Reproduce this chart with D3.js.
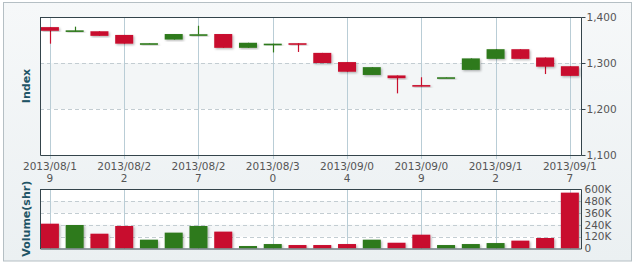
<!DOCTYPE html>
<html>
  <head>
    <meta charset="utf-8">
    <script src="https://d3js.org/d3.v7.min.js"></script>
    <style>
      body { margin: 0; background: #fff; }
      text { font-family: "DejaVu Sans", Verdana, sans-serif; }
    </style>
  </head>
  <body>
  <script>

    var dates = ["2013/08/19","2013/08/20","2013/08/21","2013/08/22","2013/08/23","2013/08/26","2013/08/27",
                 "2013/08/28","2013/08/29","2013/08/30","2013/09/02","2013/09/03","2013/09/04","2013/09/05",
                 "2013/09/06","2013/09/09","2013/09/10","2013/09/11","2013/09/12","2013/09/13","2013/09/16","2013/09/17"];
    var open  = [1378,1368,1369,1361,1342,1351,1362,1363,1333,1341,1343,1322,1302,1274,1273,1252,1268,1285,1309,1330,1312,1293];
    var close = [1370,1371,1359,1342,1343,1363,1362.5,1333,1344,1342,1341,1300,1281,1291,1267,1249,1269,1310,1330,1309,1292,1272];
    var high  = [1378,1379,1369,1361,1343,1363,1381,1363,1344,1342,1343,1322,1302,1291,1273,1269,1269,1310,1330,1330,1312,1293];
    var low   = [1342,1368,1359,1342,1342,1351,1362,1333,1333,1323,1324,1300,1281,1274,1234,1249,1268,1285,1309,1309,1276,1272];
    var volume = [250000,237000,149000,227000,89000,160000,227000,170000,25000,45000,35000,35000,
                  45000,89000,58000,139000,35000,45000,55000,79000,106000,563000];

    var priceTicks = [1100,1200,1300,1400];
    var volumeTicks = [0,120000,240000,360000,480000,600000];
    var labelIdx = [0,3,6,9,12,15,18,21];

    var red = "#c8102e", green = "#2f7a1c";
    var W = 636, H = 266;
    var left = 40, right = 581;
    var pTop = 17, pBot = 155, vTop = 189, vBot = 248.5;

    var svg = d3.select("body").append("svg").attr("width", W).attr("height", H);

    var defs = svg.append("defs");
    var grad = defs.append("linearGradient").attr("id", "bg").attr("x1", 0).attr("y1", 0).attr("x2", 0).attr("y2", 1);
    grad.append("stop").attr("offset", "0%").attr("stop-color", "#f6f8f9");
    grad.append("stop").attr("offset", "100%").attr("stop-color", "#ebf0f2");
    var f = defs.append("filter").attr("id", "sh").attr("x", "-20%").attr("y", "-20%").attr("width", "150%").attr("height", "150%");
    f.append("feDropShadow").attr("dx", 1.2).attr("dy", 1.2).attr("stdDeviation", 0.8)
      .attr("flood-color", "#000").attr("flood-opacity", 0.3);
    defs.append("clipPath").attr("id", "clipP").append("rect")
      .attr("x", left).attr("y", pTop).attr("width", right - left).attr("height", pBot - pTop);
    defs.append("clipPath").attr("id", "clipV").append("rect")
      .attr("x", left).attr("y", vTop).attr("width", right - left).attr("height", vBot - vTop);

    // outer panel
    svg.append("rect").attr("x", 3.5).attr("y", 2.5).attr("width", 628).attr("height", 258.5)
      .attr("fill", "url(#bg)").attr("stroke", "#b5bfc4");

    var x = d3.scaleLinear().domain([-0.4, 21.45]).range([left, right]);
    var y = d3.scaleLinear().domain([1100, 1400]).range([pBot, pTop]);
    var yv = d3.scaleLinear().domain([0, 600000]).range([vBot, vTop]);
    var bw = 18;

    function color(i) { return close[i] < open[i] ? red : green; }

    // plot backgrounds
    svg.append("rect").attr("x", left).attr("y", pTop).attr("width", right - left).attr("height", pBot - pTop).attr("fill", "#fff");
    svg.append("rect").attr("x", left).attr("y", vTop).attr("width", right - left).attr("height", vBot - vTop).attr("fill", "#fff");

    // alternating bands
    svg.append("rect").attr("x", left).attr("width", right - left)
      .attr("y", y(1300)).attr("height", y(1200) - y(1300)).attr("fill", "#f3f6f7");
    [[360000,480000],[120000,240000]].forEach(function(b) {
      svg.append("rect").attr("x", left).attr("width", right - left)
        .attr("y", yv(b[1])).attr("height", yv(b[0]) - yv(b[1])).attr("fill", "#f5f7f8");
    });

    // horizontal dashed grid
    svg.selectAll(".hgp").data(priceTicks.slice(1, 3)).enter().append("line")
      .attr("x1", left).attr("x2", right)
      .attr("y1", function(d) { return y(d) + 0.5; }).attr("y2", function(d) { return y(d) + 0.5; })
      .attr("stroke", "#c3cdd2").attr("stroke-dasharray", "4,3");
    svg.selectAll(".hgv").data(volumeTicks.slice(1, 5)).enter().append("line")
      .attr("x1", left).attr("x2", right)
      .attr("y1", function(d) { return Math.round(yv(d)) + 0.5; }).attr("y2", function(d) { return Math.round(yv(d)) + 0.5; })
      .attr("stroke", "#c3cdd2").attr("stroke-dasharray", "4,3");

    // vertical grid in both panels
    labelIdx.forEach(function(i) {
      var xx = Math.round(x(i)) + 0.5;
      svg.append("line").attr("x1", xx).attr("x2", xx).attr("y1", pTop).attr("y2", pBot + 4).attr("stroke", "#b9cdd6");
      svg.append("line").attr("x1", xx).attr("x2", xx).attr("y1", vTop).attr("y2", vBot).attr("stroke", "#b9cdd6");
    });

    // candles
    var idx = d3.range(dates.length);
    var cg = svg.append("g").attr("clip-path", "url(#clipP)");
    cg.selectAll(".wick").data(idx).enter().append("line")
      .attr("x1", function(i) { return Math.round(x(i)) + 0.5; })
      .attr("x2", function(i) { return Math.round(x(i)) + 0.5; })
      .attr("y1", function(i) { return y(high[i]); })
      .attr("y2", function(i) { return y(low[i]); })
      .attr("stroke", color).attr("stroke-width", 1.2);
    cg.selectAll(".body").data(idx).enter().append("rect")
      .attr("x", function(i) { return x(i) - bw / 2; })
      .attr("width", bw)
      .attr("y", function(i) { return y(Math.max(open[i], close[i])); })
      .attr("height", function(i) { return Math.max(1.6, Math.abs(y(open[i]) - y(close[i]))); })
      .attr("fill", color).attr("filter", "url(#sh)");

    // volume bars
    var vg = svg.append("g").attr("clip-path", "url(#clipV)");
    vg.selectAll(".vol").data(idx).enter().append("rect")
      .attr("x", function(i) { return x(i) - bw / 2; })
      .attr("width", bw)
      .attr("y", function(i) { return yv(volume[i]); })
      .attr("height", function(i) { return vBot - yv(volume[i]); })
      .attr("fill", color).attr("filter", "url(#sh)");

    // frames
    svg.append("path").attr("d", "M" + (left + 0.5) + "," + pTop + "V" + (pBot + 0.5) + "H" + (right + 0.5) + "V" + (pTop + 0.5) + "H" + left)
      .attr("fill", "none").attr("stroke", "#34444b");
    svg.append("path").attr("d", "M" + (left + 0.5) + "," + vTop + "V" + (vBot + 0.5) + "H" + (right + 0.5) + "V" + (vTop + 0.5) + "H" + left)
      .attr("fill", "none").attr("stroke", "#34444b");

    // right axes
    var ay = svg.append("g").attr("transform", "translate(" + (right + 0.5) + ",0)")
      .call(d3.axisRight(y).tickValues(priceTicks).tickSize(4).tickPadding(1).tickFormat(d3.format(",")));
    var av = svg.append("g").attr("transform", "translate(" + (right + 0.5) + ",0)")
      .call(d3.axisRight(yv).tickValues(volumeTicks).tickSize(0).tickPadding(3)
        .tickFormat(function(d) { return d === 0 ? "0" : (d / 1000) + "K"; }));
    [ay, av].forEach(function(a) {
      a.select(".domain").remove();
      a.selectAll("line").attr("stroke", "#34444b");
      a.selectAll("text").attr("fill", "#555").style("font-size", "10.5px").style("font-family", "DejaVu Sans");
    });

    // bottom date labels, wrapped like the original
    var lab = svg.append("g").selectAll("text").data(labelIdx).enter().append("text")
      .attr("text-anchor", "middle").attr("fill", "#555").style("font-size", "10.5px");
    lab.append("tspan").attr("x", function(i) { return x(i); }).attr("y", 170)
      .text(function(i) { return dates[i].slice(0, 9); });
    lab.append("tspan").attr("x", function(i) { return x(i); }).attr("y", 182)
      .text(function(i) { return dates[i].slice(9); });

    // axis titles
    svg.append("text").attr("transform", "translate(30," + ((pTop + pBot) / 2) + ") rotate(-90)")
      .attr("text-anchor", "middle").attr("fill", "#1f5566").style("font-size", "11px").style("font-weight", "bold")
      .text("Index");
    svg.append("text").attr("transform", "translate(30," + ((vTop + vBot) / 2) + ") rotate(-90)")
      .attr("text-anchor", "middle").attr("fill", "#1f5566").style("font-size", "11px").style("font-weight", "bold")
      .text("Volume(shr)");

  </script>
  </body>
</html>
